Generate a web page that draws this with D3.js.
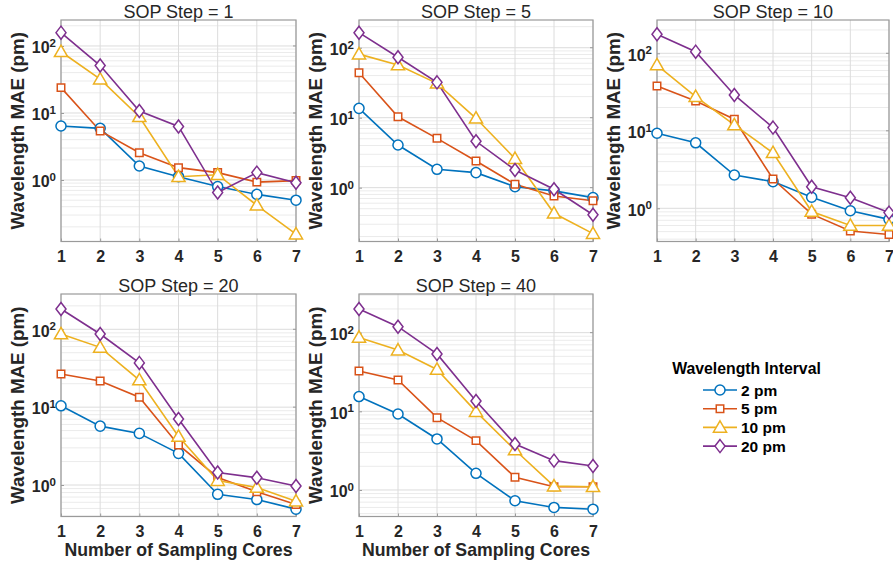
<!DOCTYPE html>
<html><head><meta charset="utf-8">
<script src="https://cdn.jsdelivr.net/npm/d3@7"></script>
<style>body{margin:0;background:#fff}svg{display:block}text{font-family:"Liberation Sans",Arial,Helvetica,sans-serif}</style>
</head><body><svg id="c" width="893" height="562"></svg>
<script>
const cores = [1,2,3,4,5,6,7];
const intervals = ["2 pm","5 pm","10 pm","20 pm"];
const sopSteps = [1,5,10,20,40];
const xTicks = [1,2,3,4,5,6,7];
const yTickExps = [-1,0,1,2];
const yLimits = [[0.121,244],[0.17,249],[0.373,269],[0.394,284],[0.46,310]];

// MAE values (pm) per SOP step, per wavelength interval, across cores 1..7
const sop1_2pm  = [6.4,5.9,1.62,1.12,0.80,0.61,0.50];
const sop1_5pm  = [23.9,5.4,2.56,1.53,1.29,0.93,0.98];
const sop1_10pm = [82,32,8.8,1.12,1.20,0.42,0.156];
const sop1_20pm = [158,51,10.7,6.3,0.65,1.29,0.91];

const sop5_2pm  = [13.6,4.07,1.83,1.64,1.03,0.90,0.72];
const sop5_5pm  = [44,10.3,5.07,2.4,1.12,0.76,0.65];
const sop5_10pm = [81,56.5,31,9.8,2.6,0.43,0.22];
const sop5_20pm = [164,73,32,4.6,1.79,0.95,0.41];

const sop10_2pm  = [9.3,7.0,2.69,2.21,1.39,0.93,0.72];
const sop10_5pm  = [37.9,24.3,14.1,2.39,0.84,0.51,0.46];
const sop10_10pm = [70.6,27.6,11.9,5.2,0.91,0.60,0.60];
const sop10_20pm = [176,105,29,11,1.9,1.37,0.88];

const sop20_2pm  = [10.4,5.7,4.6,2.55,0.76,0.65,0.49];
const sop20_5pm  = [26.7,21.7,13.4,3.27,1.25,0.82,0.56];
const sop20_10pm = [87,58.6,22.3,4.2,1.14,0.93,0.62];
const sop20_20pm = [182,87,37,7.05,1.45,1.24,0.97];

const sop40_2pm  = [15.4,9.25,4.45,1.63,0.73,0.60,0.57];
const sop40_5pm  = [32.6,25,8.3,4.24,1.45,1.10,1.10];
const sop40_10pm = [87,60,34,9.9,3.22,1.12,1.10];
const sop40_20pm = [200,119,53.6,13.5,3.84,2.36,2.02];

const panelsData = [
  [sop1_2pm,sop1_5pm,sop1_10pm,sop1_20pm],
  [sop5_2pm,sop5_5pm,sop5_10pm,sop5_20pm],
  [sop10_2pm,sop10_5pm,sop10_10pm,sop10_20pm],
  [sop20_2pm,sop20_5pm,sop20_10pm,sop20_20pm],
  [sop40_2pm,sop40_5pm,sop40_10pm,sop40_20pm]
];

const colors = ["#0072BD","#D95319","#EDB120","#7E2F8E"];
const symbols = [d3.symbolCircle,d3.symbolSquare,d3.symbolTriangle,"diamond"];
const symSize = [80,56,75,0];

const boxes = [
  {l:61,r:296,t:20,b:241.5},
  {l:359,r:593,t:20,b:241.5},
  {l:657,r:889,t:20,b:241.5},
  {l:61,r:296,t:294,b:516.5},
  {l:359,r:593,t:294,b:516.5}
];

const svg = d3.select("#c");
const TXT = "#262626";

function markerPath(i){
  if(symbols[i]==="diamond") return "M0,-6.5L5,0L0,6.5L-5,0Z";
  return d3.symbol().type(symbols[i]).size(symSize[i])();
}

panelsData.forEach((series,p)=>{
  const bx = boxes[p];
  const x = d3.scaleLinear().domain([1,7]).range([bx.l,bx.r]);
  const y = d3.scaleLog().domain(yLimits[p]).range([bx.b,bx.t]);
  const g = svg.append("g");
  const [lo,hi] = yLimits[p];
  const minors=[];
  for(let e=-2;e<=3;e++) for(let m=2;m<=9;m++){const v=m*Math.pow(10,e); if(v>lo&&v<hi) minors.push(v);}
  g.selectAll(".mn").data(minors).enter().append("line")
    .attr("x1",bx.l).attr("x2",bx.r).attr("y1",d=>y(d)).attr("y2",d=>y(d))
    .attr("stroke","#ebebeb").attr("stroke-width",1);
  const majors = yTickExps.map(e=>Math.pow(10,e)).filter(v=>v>=lo&&v<=hi);
  g.selectAll(".mj").data(majors).enter().append("line")
    .attr("x1",bx.l).attr("x2",bx.r).attr("y1",d=>y(d)).attr("y2",d=>y(d))
    .attr("stroke","#dcdcdc").attr("stroke-width",1);
  g.selectAll(".xg").data(xTicks).enter().append("line")
    .attr("x1",d=>x(d)).attr("x2",d=>x(d)).attr("y1",bx.t).attr("y2",bx.b)
    .attr("stroke","#dcdcdc").attr("stroke-width",1);
  g.append("rect").attr("x",bx.l).attr("y",bx.t).attr("width",bx.r-bx.l).attr("height",bx.b-bx.t)
    .attr("fill","none").attr("stroke","#9a9a9a").attr("stroke-width",1.2);
  const xa = d3.axisBottom(x).tickValues(xTicks).tickSize(-3).tickPadding(9).tickFormat(d3.format("d"));
  const xg = g.append("g").attr("transform",`translate(0,${bx.b})`).call(xa);
  xg.select(".domain").remove();
  xg.selectAll("line").attr("stroke","#9a9a9a");
  xg.selectAll("text").attr("font-size",16).attr("font-weight","bold").attr("fill",TXT)
    .attr("font-family","Liberation Sans, Arial, sans-serif");
  const ya = d3.axisLeft(y).tickValues(majors).tickSize(-3).tickPadding(6).tickFormat("");
  const yg = g.append("g").attr("transform",`translate(${bx.l},0)`).call(ya);
  yg.select(".domain").remove();
  yg.selectAll("line").attr("stroke","#9a9a9a");
  yg.selectAll(".tick").each(function(d){
    const t = d3.select(this).append("text").attr("x",-5).attr("dy","0.42em").attr("text-anchor","end")
      .attr("fill",TXT).attr("font-size",16).attr("font-weight","bold")
      .attr("font-family","Liberation Sans, Arial, sans-serif");
    t.append("tspan").text("10");
    t.append("tspan").attr("dy","-0.55em").attr("font-size",11.5).text(String(Math.round(Math.log10(d))));
  });
  g.selectAll(".rt").data(majors).enter().append("line")
    .attr("x1",bx.r).attr("x2",bx.r-3).attr("y1",d=>y(d)).attr("y2",d=>y(d)).attr("stroke","#9a9a9a");
  g.append("text").attr("x",(bx.l+bx.r)/2).attr("y",bx.t-2.5).attr("text-anchor","middle")
    .attr("font-size",18).attr("fill",TXT).text(`SOP Step = ${sopSteps[p]}`);
  g.append("text").attr("transform",`translate(${bx.l-37},${(bx.t+bx.b)/2}) rotate(-90)`)
    .attr("text-anchor","middle").attr("font-size",18.8).attr("font-weight","bold").attr("fill",TXT)
    .text("Wavelength MAE (pm)");
  if(p>=3){
    g.append("text").attr("x",(bx.l+bx.r)/2).attr("y",bx.b+39.5).attr("text-anchor","middle")
      .attr("font-size",17.7).attr("font-weight","bold").attr("fill",TXT).text("Number of Sampling Cores");
  }
  const line = d3.line().x((d,i)=>x(cores[i])).y(d=>y(d));
  series.forEach((vals,s)=>{
    g.append("path").attr("d",line(vals)).attr("fill","none").attr("stroke",colors[s]).attr("stroke-width",1.6);
  });
  series.forEach((vals,s)=>{
    g.selectAll(null).data(vals).enter().append("path")
      .attr("transform",(d,i)=>`translate(${x(cores[i])},${y(d)+(s===2?1:0)})`)
      .attr("d",markerPath(s)).attr("fill","#fff").attr("stroke",colors[s]).attr("stroke-width",1.5);
  });
});

const lg = svg.append("g");
lg.append("text").attr("x",746.5).attr("y",374).attr("text-anchor","middle").attr("font-size",15.8)
  .attr("font-weight","bold").attr("fill","#000").text("Wavelength Interval");
intervals.forEach((name,i)=>{
  const yy = 390 + i*18.7;
  lg.append("line").attr("x1",703).attr("x2",737).attr("y1",yy).attr("y2",yy).attr("stroke",colors[i]).attr("stroke-width",1.6);
  lg.append("path").attr("transform",`translate(720,${yy+(i===2?1:0)})`).attr("d",markerPath(i))
    .attr("fill","#fff").attr("stroke",colors[i]).attr("stroke-width",1.5);
  lg.append("text").attr("x",741).attr("y",yy+5.5).attr("font-size",15.5).attr("font-weight","bold")
    .attr("fill","#000").text(name);
});
</script></body></html>
